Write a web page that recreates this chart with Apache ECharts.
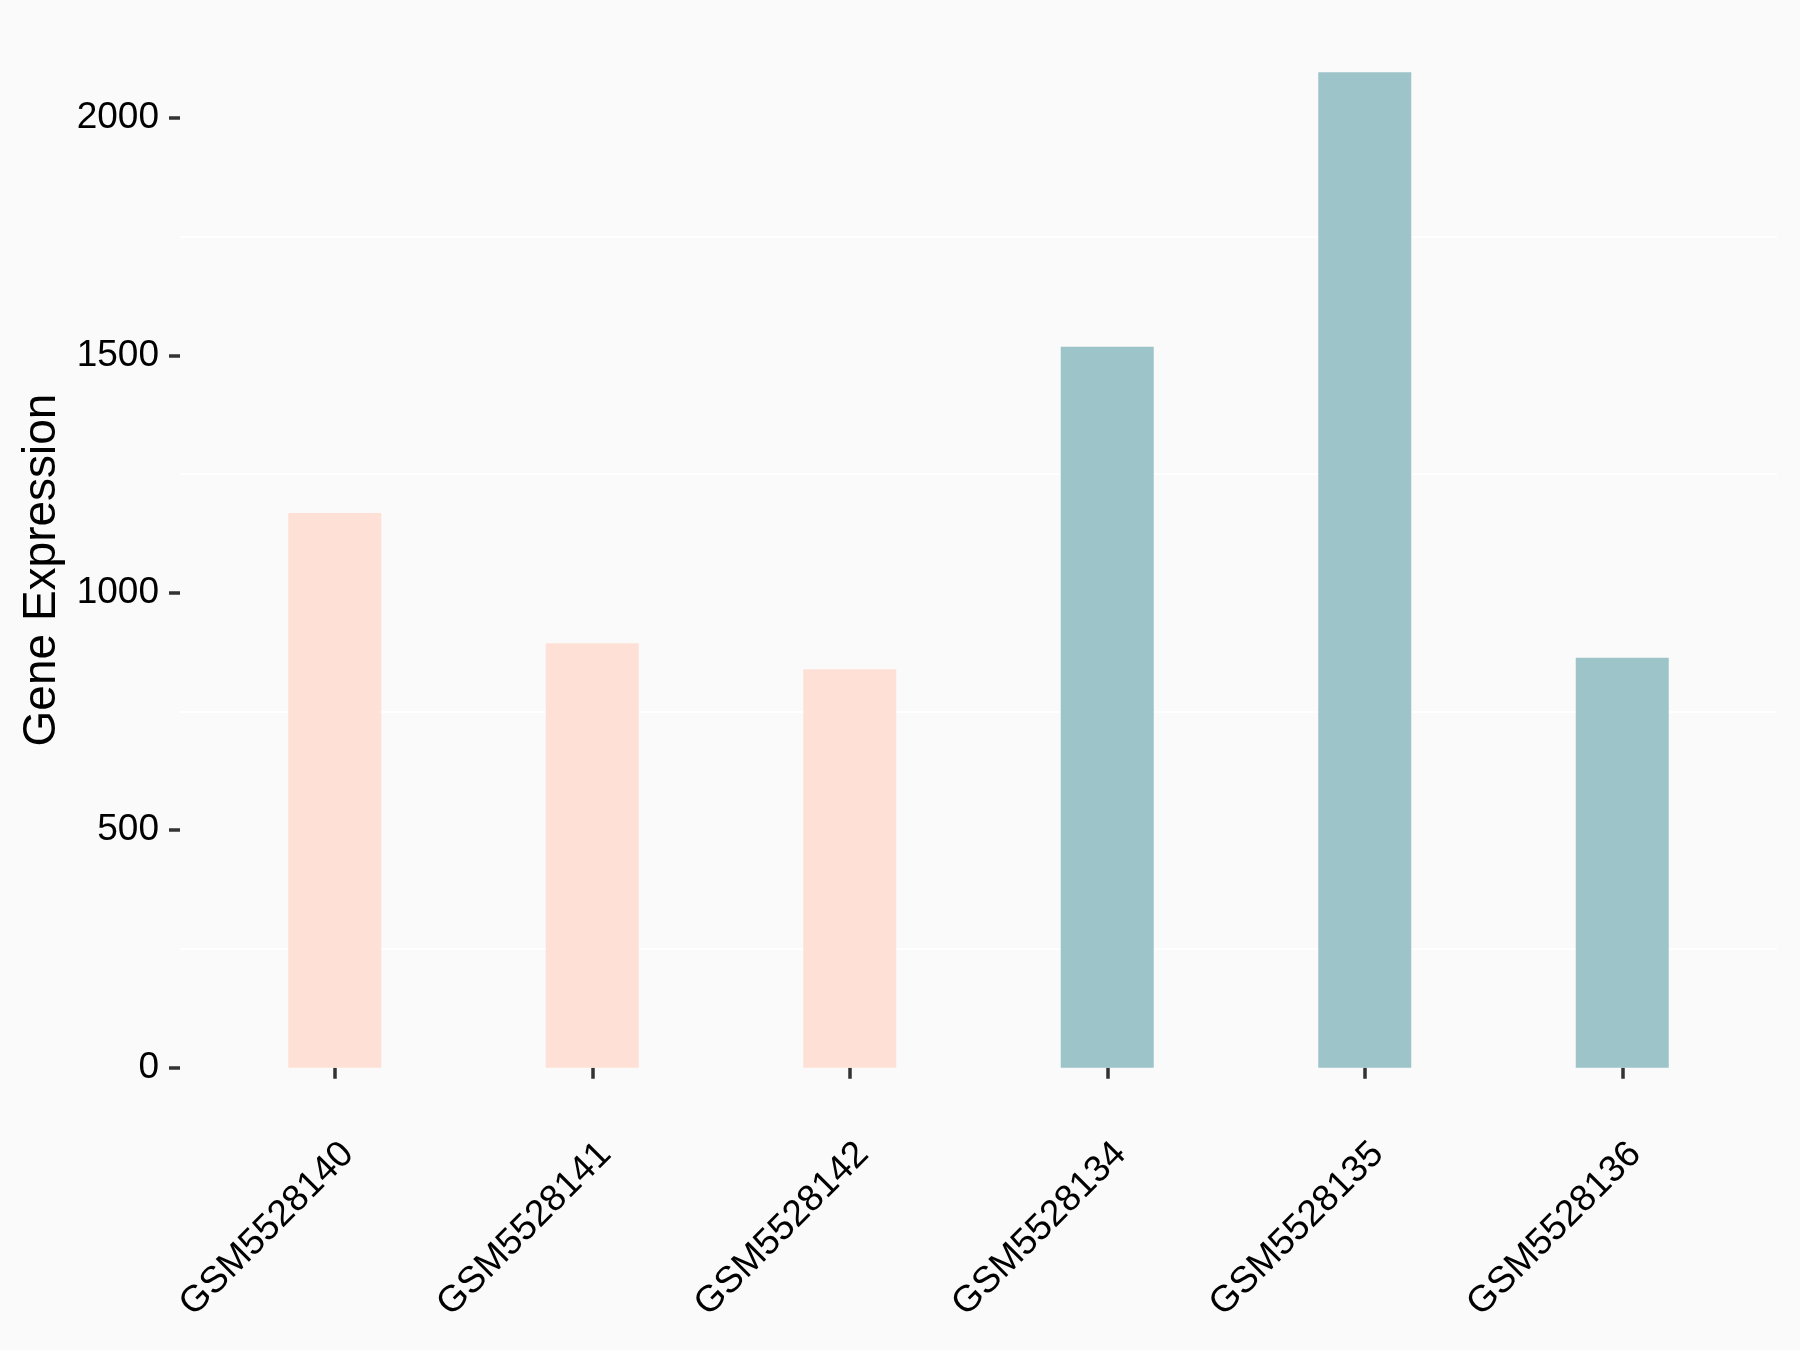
<!DOCTYPE html>
<html><head><meta charset="utf-8">
<script src="https://cdn.jsdelivr.net/npm/echarts@6/dist/echarts.min.js"></script>
<style>html,body{margin:0;padding:0;background:#FAFAFA}#c{width:1800px;height:1350px}</style>
</head><body><div id="c"></div>
<script>
const samples = ['GSM5528140','GSM5528141','GSM5528142','GSM5528134','GSM5528135','GSM5528136'];
const expression = [1168, 894, 839, 1518, 2096, 863];
const groups = ['A','A','A','B','B','B'];
const groupColors = {A:'#FFE0D6', B:'#9DC4C8'};
const yTicks = [0, 500, 1000, 1500, 2000];
const gridLineValues = [250, 750, 1250, 1750];
const yMin = -104.8, yMax = 2200.8;
const FONT = "'Liberation Sans', Arial, sans-serif";

const chart = echarts.init(document.getElementById('c'), null, {renderer:'canvas'});
chart.setOption({
  backgroundColor: '#FAFAFA',
  animation: false,
  grid: [
    {left:180, right:23, top:22.6, bottom:232.6},
    {left:206, right:49, top:22.6, bottom:232.6}
  ],
  xAxis: [
    {gridIndex:0, type:'value', min:0, max:1, show:false},
    {gridIndex:1, type:'category', data:samples, boundaryGap:true,
     axisLine:{show:false},
     axisTick:{show:true, alignWithLabel:true, length:11, lineStyle:{color:'#333', width:3.5}},
     axisLabel:{rotate:45, margin:18, align:'right', verticalAlign:'top', fontSize:37, color:'#000', fontFamily:FONT, interval:0},
     splitLine:{show:false}}
  ],
  yAxis: [
    {gridIndex:0, type:'value', min:yMin, max:yMax,
     name:'Gene Expression', nameLocation:'middle', nameGap:104, nameRotate:90,
     nameTextStyle:{fontSize:46, color:'#000', fontFamily:FONT},
     axisLine:{show:false},
     axisTick:{show:true, length:11, customValues:yTicks, lineStyle:{color:'#333', width:3.5}},
     axisLabel:{customValues:yTicks, margin:21, fontSize:37, color:'#000', fontFamily:FONT,
                formatter: v => String(v)},
     splitLine:{show:false}},
    {gridIndex:1, type:'value', min:yMin, max:yMax, show:false, splitLine:{show:false}}
  ],
  series: [
    {type:'line', xAxisIndex:0, yAxisIndex:0, data:[], z:1, silent:true,
     markLine:{silent:true, z:1, symbol:'none', label:{show:false},
       lineStyle:{color:'#FFFFFF', width:2, type:'solid'},
       data: gridLineValues.map(v => ({yAxis:v}))}},
    {type:'bar', xAxisIndex:1, yAxisIndex:1, z:3, barWidth:93,
     data: expression.map((v,i) => ({value:v, itemStyle:{color:groupColors[groups[i]]}}))}
  ]
});
</script></body></html>
